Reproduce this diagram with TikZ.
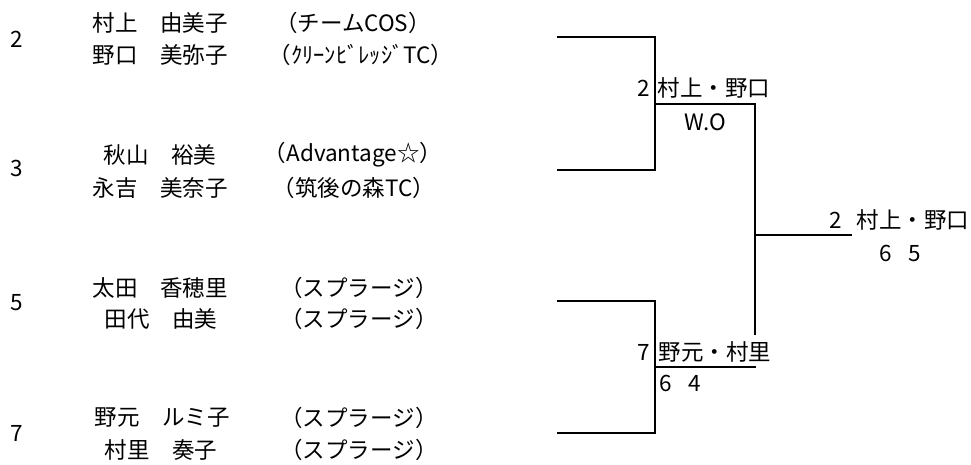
\documentclass[tikz,border=0pt]{standalone}
\usepackage{fontspec}
\setmainfont{Noto Sans CJK JP}
\usepackage{tikz}

\begin{document}
\begin{tikzpicture}[x=1pt, y=-1pt, every node/.style={inner sep=0pt, font=\fontsize{22.5}{27}\selectfont}, bracket/.style={draw=black, line width=1.8pt, line join=miter}]
			\useasboundingbox (0,0) rectangle (971,464);
			\node (s2) at (17,39){2};
			\node (n2a) at (160,23){村上　由美子};
			\node (n2b) at (160,55){野口　美弥子};
			\node (c2a) at (353,23){（チームCOS）};
			\node (c2b) at (361,55){（ｸﾘｰﾝﾋﾞﾚｯｼﾞTC）};
			\node (s3) at (17,168){3};
			\node (n3a) at (160,155){秋山　裕美};
			\node (n3b) at (160,188){永吉　美奈子};
			\node (c3a) at (353,155){（Advantage☆）};
			\node (c3b) at (354,188){（筑後の森TC）};
			\node (s5) at (17,303){5};
			\node (n5a) at (160,288){太田　香穂里};
			\node (n5b) at (161,319){田代　由美};
			\node (c5a) at (359,288){（スプラージ）};
			\node (c5b) at (359,319){（スプラージ）};
			\node (s7) at (17,433){7};
			\node (n7a) at (162,418){野元　ルミ子};
			\node (n7b) at (161,450){村里　奏子};
			\node (c7a) at (359,418){（スプラージ）};
			\node (c7b) at (359,450){（スプラージ）};
			
			\coordinate (a1) at (557,37);
			\coordinate (a2) at (655,37);
			\coordinate (a3) at (655,170);
			\coordinate (a4) at (557,170);
			\coordinate (b1) at (557,301);
			\coordinate (b2) at (655,301);
			\coordinate (b3) at (655,433);
			\coordinate (b4) at (557,433);
			\coordinate (m1) at (655,104);
			\coordinate (m2) at (755,104);
			\coordinate (m3) at (755,335);
			\coordinate (k1) at (655,367);
			\coordinate (k2) at (756,367);
			\coordinate (f1) at (755,235);
			\coordinate (f2) at (852,235);
			
			\draw[bracket] (a1) -- (a2) -- (a3) -- (a4);
			\draw[bracket] (b1) -- (b2) -- (b3) -- (b4);
			\draw[bracket] (m1) -- (m2) -- (m3);
			\draw[bracket] (k1) -- (k2);
			\draw[bracket] (f1) -- (f2);
			
			\node (w1s) at (644,88){2};
			\node (w1) at (714,88){村上・野口};
			\node (w1r) at (705,122){W.O};
			\node (w2s) at (644,352){7};
			\node (w2) at (715,352){野元・村里};
			\node (w2r) at (680,383){6\hspace{16pt}4};
			\node (fs) at (836,220){2};
			\node (fw) at (913,220){村上・野口};
			\node (fr) at (900,253){6\hspace{16pt}5};
			\end{tikzpicture}
\end{document}
